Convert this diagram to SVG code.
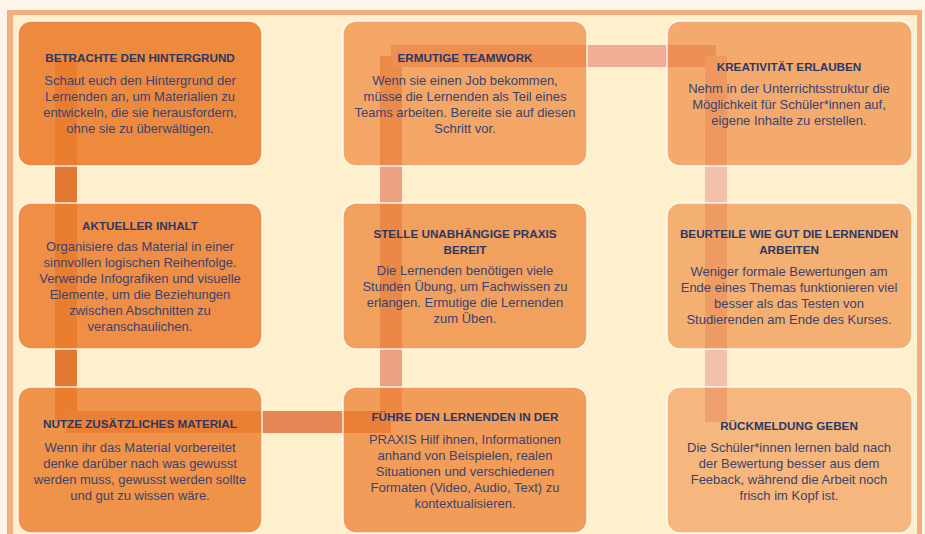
<svg xmlns="http://www.w3.org/2000/svg" width="925" height="534" viewBox="0 0 925 534">
<style>
.box{fill:#ec7e2d;stroke:#ffffff;stroke-opacity:0.85;stroke-width:1.5}
.t{font-family:"Liberation Sans",Arial,sans-serif;font-weight:bold;font-size:11.7px;fill:#2b3865;text-anchor:middle}
.b{font-family:"Liberation Sans",Arial,sans-serif;font-size:13px;fill:#3b4370;text-anchor:middle}
.bar{fill:none;stroke-width:22;stroke-linecap:butt}
</style>
<rect x="0" y="0" width="925" height="534" fill="#fdf4ea"/>
<rect x="7" y="10" width="915" height="600" fill="#f4ad7f"/>
<rect x="13" y="15" width="904" height="600" fill="#fef0cd"/>
<g id="connectors">
<line class="bar" x1="66" y1="60" x2="66" y2="422" stroke="#e27832"/>
<line class="bar" x1="66" y1="422" x2="391" y2="422" stroke="#e68755"/>
<line class="bar" x1="391" y1="422" x2="391" y2="56" stroke="#eca280"/>
<line class="bar" x1="391" y1="56" x2="716" y2="56" stroke="#f0ac94"/>
<line class="bar" x1="716" y1="56" x2="716" y2="422" stroke="#f3c0ac"/>
</g>
<g id="node1">
<rect class="box" x="18" y="21" width="244" height="145" rx="13" fill-opacity="0.9"/>
<text class="t" x="140" y="62">BETRACHTE DEN HINTERGRUND</text>
<text class="b" x="140" y="85">Schaut euch den Hintergrund der</text>
<text class="b" x="140" y="101">Lernenden an, um Materialien zu</text>
<text class="b" x="140" y="117">entwickeln, die sie herausfordern,</text>
<text class="b" x="140" y="133">ohne sie zu überwältigen.</text>
</g>
<g id="node2">
<rect class="box" x="18" y="203" width="244" height="146" rx="13" fill-opacity="0.86"/>
<text class="t" x="140" y="230">AKTUELLER INHALT</text>
<text class="b" x="140" y="251">Organisiere das Material in einer</text>
<text class="b" x="140" y="267">sinnvollen logischen Reihenfolge.</text>
<text class="b" x="140" y="283">Verwende Infografiken und visuelle</text>
<text class="b" x="140" y="299">Elemente, um die Beziehungen</text>
<text class="b" x="140" y="315">zwischen Abschnitten zu</text>
<text class="b" x="140" y="331">veranschaulichen.</text>
</g>
<g id="node3">
<rect class="box" x="18" y="387" width="244" height="146" rx="13" fill-opacity="0.82"/>
<text class="t" x="140" y="428">NUTZE ZUSÄTZLICHES MATERIAL</text>
<text class="b" x="140" y="452">Wenn ihr das Material vorbereitet</text>
<text class="b" x="140" y="468">denke darüber nach was gewusst</text>
<text class="b" x="140" y="484">werden muss, gewusst werden sollte</text>
<text class="b" x="140" y="500">und gut zu wissen wäre.</text>
</g>
<g id="node4">
<rect class="box" x="343" y="21" width="244" height="145" rx="13" fill-opacity="0.65"/>
<text class="t" x="465" y="62">ERMUTIGE TEAMWORK</text>
<text class="b" x="465" y="85">Wenn sie einen Job bekommen,</text>
<text class="b" x="465" y="101">müsse die Lernenden als Teil eines</text>
<text class="b" x="465" y="117">Teams arbeiten. Bereite sie auf diesen</text>
<text class="b" x="465" y="133">Schritt vor.</text>
</g>
<g id="node5">
<rect class="box" x="343" y="203" width="244" height="146" rx="13" fill-opacity="0.7"/>
<text class="t" x="465" y="238">STELLE UNABHÄNGIGE PRAXIS</text>
<text class="t" x="465" y="254">BEREIT</text>
<text class="b" x="465" y="275">Die Lernenden benötigen viele</text>
<text class="b" x="465" y="291">Stunden Übung, um Fachwissen zu</text>
<text class="b" x="465" y="307">erlangen. Ermutige die Lernenden</text>
<text class="b" x="465" y="323">zum Üben.</text>
</g>
<g id="node6">
<rect class="box" x="343" y="387" width="244" height="146" rx="13" fill-opacity="0.73"/>
<text class="t" x="465" y="421">FÜHRE DEN LERNENDEN IN DER</text>
<text class="b" x="465" y="444">PRAXIS Hilf ihnen, Informationen</text>
<text class="b" x="465" y="460">anhand von Beispielen, realen</text>
<text class="b" x="465" y="476">Situationen und verschiedenen</text>
<text class="b" x="465" y="492">Formaten (Video, Audio, Text) zu</text>
<text class="b" x="465" y="508">kontextualisieren.</text>
</g>
<g id="node7">
<rect class="box" x="667" y="21" width="245" height="145" rx="13" fill-opacity="0.61"/>
<text class="t" x="789" y="71">KREATIVITÄT ERLAUBEN</text>
<text class="b" x="789" y="93">Nehm in der Unterrichtsstruktur die</text>
<text class="b" x="789" y="109">Möglichkeit für Schüler*innen auf,</text>
<text class="b" x="789" y="125">eigene Inhalte zu erstellen.</text>
</g>
<g id="node8">
<rect class="box" x="667" y="203" width="245" height="146" rx="13" fill-opacity="0.57"/>
<text class="t" x="789" y="238">BEURTEILE WIE GUT DIE LERNENDEN</text>
<text class="t" x="789" y="254">ARBEITEN</text>
<text class="b" x="789" y="276">Weniger formale Bewertungen am</text>
<text class="b" x="789" y="292">Ende eines Themas funktionieren viel</text>
<text class="b" x="789" y="308">besser als das Testen von</text>
<text class="b" x="789" y="324">Studierenden am Ende des Kurses.</text>
</g>
<g id="node9">
<rect class="box" x="667" y="387" width="245" height="146" rx="13" fill-opacity="0.5"/>
<text class="t" x="789" y="430">RÜCKMELDUNG GEBEN</text>
<text class="b" x="789" y="452">Die Schüler*innen lernen bald nach</text>
<text class="b" x="789" y="468">der Bewertung besser aus dem</text>
<text class="b" x="789" y="484">Feeback, während die Arbeit noch</text>
<text class="b" x="789" y="500">frisch im Kopf ist.</text>
</g>
</svg>
